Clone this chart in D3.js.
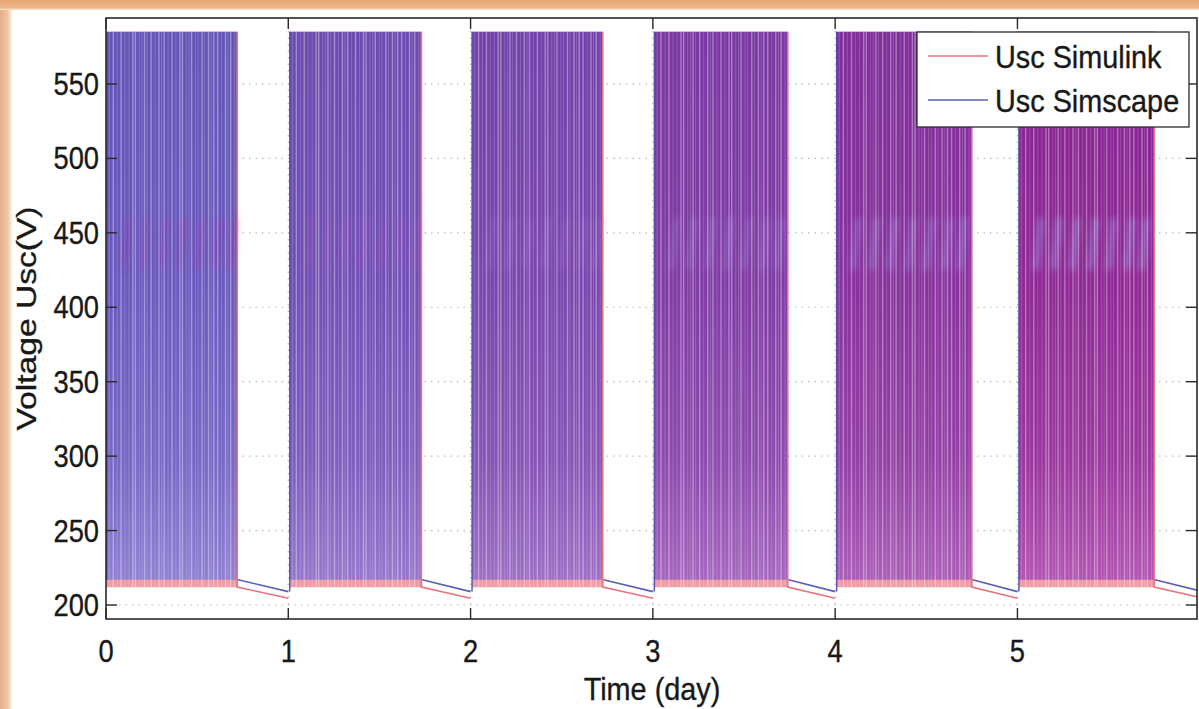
<!DOCTYPE html>
<html>
<head>
<meta charset="utf-8">
<script src="https://cdn.jsdelivr.net/npm/d3@7"></script>
<style>
  html, body { margin: 0; padding: 0; background: #ffffff; }
  svg { display: block; }
  text { font-family: "Liberation Sans", Arial, Helvetica, sans-serif; fill: #181818; stroke: #181818; stroke-width: 0.35px; }
</style>
</head>
<body>
<script>
// ---------------- data ----------------
const days          = [0, 1, 2, 3, 4, 5];
const chargeStart   = [0.004, 1.008, 2.008, 3.008, 4.008, 5.008];   // day of first pulse
const chargeEnd     = [0.720, 1.730, 2.725, 3.740, 4.750, 5.750];   // day of last pulse
const dayEnd        = [1.0, 2.0, 3.0, 4.0, 5.0, 5.985];
const uscMax        = [585, 585, 585, 585, 585, 585];               // V, upper pulse level
const simulinkMin   = [212, 212, 212, 212, 212, 212];               // V, lower level Simulink
const simscapeMin   = [217, 217, 217, 217, 217, 217];               // V, lower level Simscape
const simulinkRest  = [204.5, 204.5, 204.5, 204.5, 204.5, 205.5];   // V at end of rest period
const simscapeRest  = [209, 209, 209, 209, 209, 210];
// positions (fraction of charging window) of individual pulses that stand out as light stripes
const strongPulses  = [0.05, 0.11, 0.20, 0.22, 0.29, 0.34, 0.40, 0.44, 0.50, 0.56, 0.58, 0.65, 0.73, 0.78, 0.82, 0.85, 0.91, 0.95];
const faintPulses   = [0.02, 0.08, 0.14, 0.17, 0.25, 0.27, 0.31, 0.37, 0.42, 0.47, 0.53, 0.61, 0.63, 0.68, 0.70, 0.75, 0.80, 0.88, 0.93, 0.98];
// day-fraction positions of the ripple streaks around 430-455 V
const rippleOffsets = [0.10, 0.20, 0.30, 0.40, 0.50, 0.60, 0.68];
const yTicks = [200, 250, 300, 350, 400, 450, 500, 550];
const xTicks = [0, 1, 2, 3, 4, 5];
const seriesNames = ["Usc Simulink", "Usc Simscape"];

// ---------------- layout ----------------
const W = 1199, H = 709;
const svg = d3.select("body").append("svg").attr("width", W).attr("height", H);
const defs = svg.append("defs");

const x = d3.scaleLinear().domain([0, 5.985]).range([106, 1197]);
const y = d3.scaleLinear().domain([190.6, 594.3]).range([619, 18]);

// orange frame
const gTop = defs.append("linearGradient").attr("id", "gTop").attr("x1", 0).attr("y1", 0).attr("x2", 0).attr("y2", 1);
gTop.append("stop").attr("offset", 0).attr("stop-color", "#e7a470");
gTop.append("stop").attr("offset", 0.8).attr("stop-color", "#efbb90");
gTop.append("stop").attr("offset", 1).attr("stop-color", "#fbe9da");
const gLeft = defs.append("linearGradient").attr("id", "gLeft").attr("x1", 0).attr("y1", 0).attr("x2", 1).attr("y2", 0);
gLeft.append("stop").attr("offset", 0).attr("stop-color", "#e6b088");
gLeft.append("stop").attr("offset", 0.6).attr("stop-color", "#eec6a6");
gLeft.append("stop").attr("offset", 1).attr("stop-color", "#ffffff");
svg.append("rect").attr("x", 0).attr("y", 0).attr("width", 13).attr("height", H).attr("fill", "url(#gLeft)");
svg.append("rect").attr("x", 0).attr("y", 0).attr("width", W).attr("height", 10).attr("fill", "url(#gTop)");

// clip
defs.append("clipPath").attr("id", "plotClip").append("rect")
  .attr("x", x(0)).attr("y", y(594.3)).attr("width", x(5.985) - x(0)).attr("height", y(190.6) - y(594.3));

const blur = defs.append("filter").attr("id", "soft").attr("x", "-50%").attr("y", "-50%").attr("width", "200%").attr("height", "200%");
blur.append("feGaussianBlur").attr("stdDeviation", 3.2);

// grid
const grid = svg.append("g").attr("clip-path", "url(#plotClip)");
grid.selectAll("line.gy").data(yTicks).join("line")
  .attr("x1", x(0)).attr("x2", x(5.985)).attr("y1", d => y(d)).attr("y2", d => y(d))
  .attr("stroke", "#b9b9b9").attr("stroke-width", 1.2).attr("stroke-dasharray", "1.5,5");
grid.selectAll("line.gx").data(xTicks).join("line")
  .attr("x1", d => x(d)).attr("x2", d => x(d)).attr("y1", y(594.3)).attr("y2", y(190.6))
  .attr("stroke", "#b9b9b9").attr("stroke-width", 1.2).attr("stroke-dasharray", "1.5,5");

// ---------------- data marks ----------------
const plot = svg.append("g").attr("clip-path", "url(#plotClip)");
const cTop = d3.interpolateRgb("#6554b8", "#862594");
const cMid = d3.interpolateRgb("#6a5abf", "#8f2894");
const cBot = d3.interpolateRgb("#8f80d2", "#b255b2");

const band = d3.area().x(d => x(d.t)).y0(d => y(d.lo)).y1(d => y(d.hi));

days.forEach((d, i) => {
  const t = i / 5;
  const gid = "band" + i;
  const g = defs.append("linearGradient").attr("id", gid).attr("gradientUnits", "userSpaceOnUse")
    .attr("x1", 0).attr("x2", 0).attr("y1", y(uscMax[i])).attr("y2", y(simscapeMin[i]));
  g.append("stop").attr("offset", 0).attr("stop-color", cTop(t));
  g.append("stop").attr("offset", 0.45).attr("stop-color", cMid(t));
  g.append("stop").attr("offset", 0.78).attr("stop-color", d3.interpolateRgb(cMid(t), cBot(t))(0.35));
  g.append("stop").attr("offset", 1).attr("stop-color", cBot(t));

  const win = [{t: chargeStart[i]}, {t: chargeEnd[i]}];
  // Simulink (red) envelope underneath
  plot.append("path")
    .datum(win.map(p => ({t: p.t, lo: simulinkMin[i], hi: uscMax[i]})))
    .attr("d", band).attr("fill", "#ef9aa6");
  // Simscape (blue) envelope on top, mixed
  plot.append("path")
    .datum(win.map(p => ({t: p.t, lo: simscapeMin[i], hi: uscMax[i]})))
    .attr("d", band).attr("fill", `url(#${gid})`);

  const span = chargeEnd[i] - chargeStart[i];
  // ripple streaks
  const rippleColor = d3.interpolateRgb("rgba(150,50,165,0.45)", "rgba(150,165,240,0.55)")(t);
  plot.append("g").attr("filter", "url(#soft)")
    .selectAll("line").data(rippleOffsets).join("line")
    .attr("x1", o => x(d + o)).attr("x2", o => x(d + o + 0.03))
    .attr("y1", y(425)).attr("y2", y(460))
    .attr("stroke", rippleColor).attr("stroke-width", 5);

  // individual pulses visible as light stripes
  plot.append("g").selectAll("line").data(strongPulses).join("line")
    .attr("x1", o => x(chargeStart[i] + o * span)).attr("x2", o => x(chargeStart[i] + o * span))
    .attr("y1", y(uscMax[i])).attr("y2", y(simulinkMin[i]))
    .attr("stroke", "#ffffff").attr("stroke-opacity", 0.36).attr("stroke-width", 1.4);
  plot.append("g").selectAll("line").data(faintPulses).join("line")
    .attr("x1", o => x(chargeStart[i] + o * span)).attr("x2", o => x(chargeStart[i] + o * span))
    .attr("y1", y(uscMax[i])).attr("y2", y(simulinkMin[i]))
    .attr("stroke", "#ffffff").attr("stroke-opacity", 0.18).attr("stroke-width", 1);

  // edges and rest periods, Simulink then Simscape
  const line = d3.line().x(p => x(p[0])).y(p => y(p[1]));
  plot.append("path").attr("fill", "none").attr("stroke", "#e8737f").attr("stroke-width", 1.6)
    .attr("d", line([[chargeEnd[i], uscMax[i]], [chargeEnd[i], simulinkMin[i]], [dayEnd[i], simulinkRest[i]]]));
  plot.append("path").attr("fill", "none").attr("stroke", "#5a5fb8").attr("stroke-width", 1.6)
    .attr("d", line([[chargeEnd[i] + 0.004, simscapeMin[i]], [dayEnd[i], simscapeRest[i]]]));
  plot.append("path").attr("fill", "none").attr("stroke", "#5a4fb0").attr("stroke-width", 1.4)
    .attr("d", line([[chargeStart[i], i > 0 ? simscapeRest[i - 1] : simscapeMin[i]], [chargeStart[i], uscMax[i]]]));
});

// ---------------- axes ----------------
const axes = svg.append("g");
const tickLen = 11;
axes.append("rect").attr("x", x(0)).attr("y", y(594.3)).attr("width", x(5.985) - x(0)).attr("height", y(190.6) - y(594.3))
  .attr("fill", "none").attr("stroke", "#2a2a2a").attr("stroke-width", 1.6);
axes.selectAll("line.yt").data(yTicks).join("line")
  .attr("x1", x(0)).attr("x2", x(0) + tickLen).attr("y1", d => y(d)).attr("y2", d => y(d))
  .attr("stroke", "#2a2a2a").attr("stroke-width", 1.4);
axes.selectAll("line.ytr").data(yTicks).join("line")
  .attr("x1", x(5.985)).attr("x2", x(5.985) - tickLen).attr("y1", d => y(d)).attr("y2", d => y(d))
  .attr("stroke", "#2a2a2a").attr("stroke-width", 1.4);
axes.selectAll("line.xt").data(xTicks).join("line")
  .attr("x1", d => x(d)).attr("x2", d => x(d)).attr("y1", y(190.6)).attr("y2", y(190.6) - tickLen)
  .attr("stroke", "#2a2a2a").attr("stroke-width", 1.4);
axes.selectAll("line.xtt").data(xTicks).join("line")
  .attr("x1", d => x(d)).attr("x2", d => x(d)).attr("y1", y(594.3)).attr("y2", y(594.3) + tickLen)
  .attr("stroke", "#2a2a2a").attr("stroke-width", 1.4);

const FS = 31;
function label(sel, tx, ty, str, anchor, sx) {
  return sel.append("text").attr("transform", `translate(${tx},${ty}) scale(${sx},1)`)
    .attr("text-anchor", anchor).attr("font-size", FS).text(str);
}
yTicks.forEach(v => label(axes, 99, y(v) + 11, String(v), "end", 0.88));
xTicks.forEach(v => label(axes, x(v), 662, String(v), "middle", 0.88));
label(axes, 652, 700, "Time (day)", "middle", 0.93);
axes.append("text").attr("transform", `translate(36,${(y(594.3) + y(190.6)) / 2}) rotate(-90) scale(1.2,1)`)
  .attr("text-anchor", "middle").attr("font-size", 28).text("Voltage Usc(V)");

// ---------------- legend ----------------
const leg = svg.append("g");
leg.append("rect").attr("x", 917).attr("y", 32).attr("width", 272).attr("height", 95)
  .attr("fill", "#ffffff").attr("stroke", "#2a2a2a").attr("stroke-width", 1.3);
const legColors = ["#e8737f", "#5a5fb8"];
seriesNames.forEach((name, i) => {
  const ly = 56 + i * 44;
  leg.append("line").attr("x1", 928).attr("x2", 988).attr("y1", ly).attr("y2", ly)
    .attr("stroke", legColors[i]).attr("stroke-width", 1.6);
  label(leg, 995, ly + 12, name, "start", 0.93);
});
</script>
</body>
</html>
